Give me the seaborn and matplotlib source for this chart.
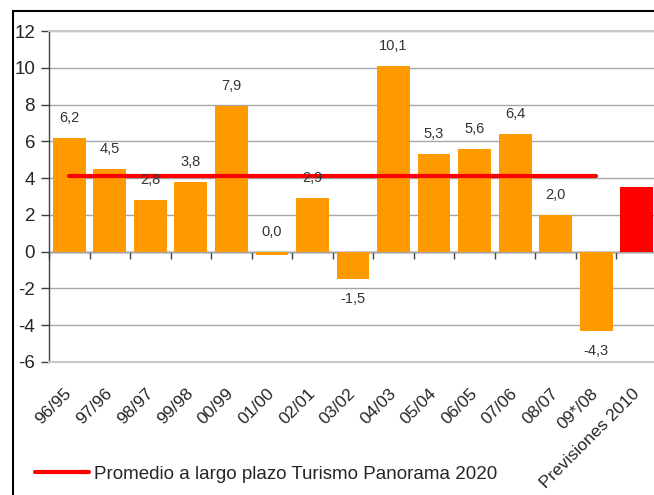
import numpy as np
import matplotlib
matplotlib.use('Agg')
import matplotlib.pyplot as plt
from matplotlib.lines import Line2D
from matplotlib.patches import Rectangle
import seaborn as sns

# datos
categorias = ['96/95', '97/96', '98/97', '99/98', '00/99', '01/00', '02/01', '03/02',
              '04/03', '05/04', '06/05', '07/06', '08/07', '09*/08', 'Previsiones 2010']
valores = [6.2, 4.5, 2.8, 3.8, 7.9, -0.2, 2.9, -1.5, 10.1, 5.3, 5.6, 6.4, 2.0, -4.3, 3.5]
etiquetas = ['6,2', '4,5', '2,8', '3,8', '7,9', '0,0', '2,9', '-1,5', '10,1', '5,3',
             '5,6', '6,4', '2,0', '-4,3', '']
promedio = [4.1] * 14
colores = ['#FF9900'] * 14 + ['#FF0000']

sns.set_style('white')
plt.rcParams['font.family'] = ['Liberation Sans', 'DejaVu Sans']

fig = plt.figure(figsize=(6.54, 4.95), dpi=100)
ax = fig.add_axes([49 / 654, 1 - 362 / 495, 608 / 654, 331 / 495])

sns.barplot(x=categorias, y=valores, hue=categorias, palette=colores, legend=False,
            saturation=1, width=0.81, linewidth=0, ax=ax, zorder=2)

ax.plot(np.arange(len(promedio)), promedio, color='#FF0000', lw=3,
        solid_capstyle='round', zorder=3)

for i, (v, t) in enumerate(zip(valores, etiquetas)):
    if not t:
        continue
    off = -14.5 if v < -0.5 else 14.5
    ax.annotate(t, (i, max(v, 0) if v > -0.5 else v), xytext=(0, off),
                textcoords='offset points', ha='center', va='center',
                fontsize=10.5, color='#333333')

ax.set_ylim(-6, 12)
ax.set_xlim(-0.5, 14.5)
ax.set_yticks(range(-6, 13, 2))
ax.set_yticklabels([str(v) for v in range(-6, 13, 2)], fontsize=13.5)
ax.yaxis.grid(True, color='#a6a6a6', lw=1, zorder=0)
ax.set_axisbelow(True)
ax.tick_params(axis='y', direction='out', length=6, width=1, color='#404040', pad=4, left=True)

ax.set_xticks(range(len(categorias)))
ax.set_xticklabels(categorias, rotation=45, ha='right', va='center',
                   rotation_mode='anchor', fontsize=12.5)
ax.tick_params(axis='x', length=0, pad=21)

for s in ['top', 'bottom', 'right']:
    ax.spines[s].set_color('#c8c8c8')
    ax.spines[s].set_linewidth(1.5)
ax.spines['left'].set_color('#404040')
ax.spines['left'].set_linewidth(1)

# eje en cero con marcas entre categorías
eje0 = ax.secondary_xaxis(6 / 18)
eje0.set_xticks(np.arange(-0.5, 15, 1))
eje0.set_xticklabels([])
eje0.tick_params(direction='out', length=5, width=1, color='#404040')
eje0.spines['bottom'].set_color('#202020')
eje0.spines['bottom'].set_linewidth(1)

fig.legend(handles=[Line2D([], [], color='#FF0000', lw=3, solid_capstyle='round')],
           labels=['Promedio a largo plazo Turismo Panorama 2020'],
           loc='center left', bbox_to_anchor=(35 / 654, 1 - 474 / 495),
           frameon=False, fontsize=13.5, handlelength=2.9, handletextpad=0.25,
           borderpad=0, borderaxespad=0)

fig.patches.append(Rectangle((13 / 654, -0.1), 1.2, 1 - 11 / 495 + 0.1,
                             transform=fig.transFigure, fill=False,
                             edgecolor='black', lw=1.5))

fig.savefig('out.png', dpi=100)
